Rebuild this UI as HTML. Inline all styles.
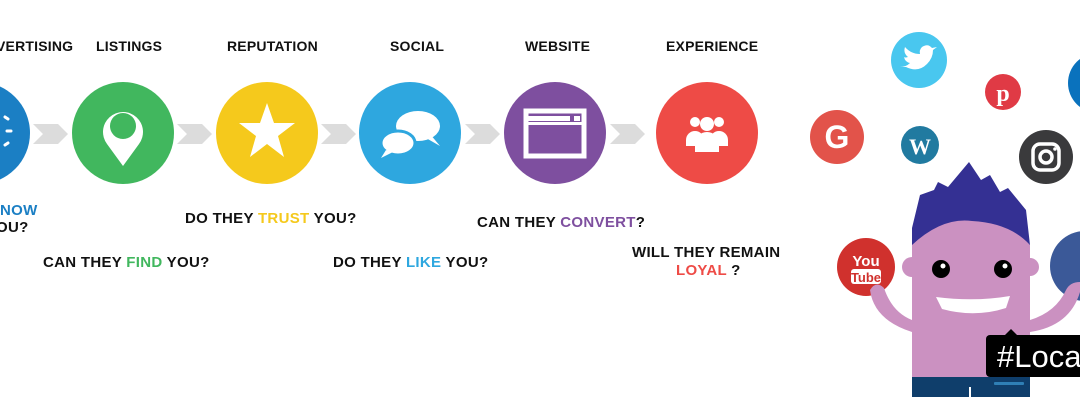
<!DOCTYPE html>
<html><head><style>
body{margin:0;width:1080px;height:417px;overflow:hidden;background:#fff;position:relative;font-family:"Liberation Sans",sans-serif}
.t{position:absolute;font-weight:bold;font-size:14px;color:#111;white-space:nowrap;letter-spacing:0.2px}
.q{font-size:15px;letter-spacing:0.3px}
</style></head><body>
<svg width="1080" height="417" style="position:absolute;left:0;top:0">
<g fill="#dcdcdc">
<polygon points="33,124 58,124 68,134 58,144 33,144 43,134"/>
<polygon points="177,124 202,124 212,134 202,144 177,144 187,134"/>
<polygon points="321,124 346,124 356,134 346,144 321,144 331,134"/>
<polygon points="465,124 490,124 500,134 490,144 465,144 475,134"/>
<polygon points="610,124 635,124 645,134 635,144 610,144 620,134"/>
</g>
<circle cx="-21" cy="133" r="51" fill="#1b7fc4"/>
<g stroke="#fff" stroke-width="3" stroke-linecap="round"><line x1="5" y1="117" x2="8" y2="119"/><line x1="7" y1="131" x2="11" y2="131"/><line x1="5" y1="145" x2="8" y2="143"/></g>
<circle cx="123" cy="133" r="51" fill="#41b75e"/>
<path d="M123,166 L107,144 A20,20 0 1 1 139,144 Z" fill="#fff"/>
<circle cx="123" cy="126" r="13" fill="#41b75e"/>
<circle cx="267" cy="133" r="51" fill="#f5c91c"/>
<polygon points="267,103 274,123 295,123 278,136 284,157 267,144 250,157 256,136 239,123 260,123" fill="#fff"/>
<circle cx="410" cy="133" r="51" fill="#2ea7df"/>
<ellipse cx="418" cy="126" rx="22" ry="15" fill="#fff"/><polygon points="430,134 440,146 426,138" fill="#fff"/>
<ellipse cx="398" cy="143" rx="17" ry="12" fill="#fff" stroke="#2ea7df" stroke-width="3"/><polygon points="386,150 381,158 393,152" fill="#fff"/>
<circle cx="555" cy="133" r="51" fill="#7e4f9f"/>
<rect x="526" y="111" width="58" height="45" fill="none" stroke="#fff" stroke-width="5"/>
<rect x="528" y="116" width="42" height="5" fill="#fff"/><rect x="574" y="116" width="6" height="5" fill="#fff"/>
<rect x="526" y="122" width="58" height="3" fill="#fff"/>
<circle cx="707" cy="133" r="51" fill="#ee4b46"/>
<g fill="#fff"><circle cx="695" cy="122" r="5"/><circle cx="719" cy="122" r="5"/><path d="M686,140 a9,9 0 0 1 18,0 v6 h-18z"/><path d="M710,140 a9,9 0 0 1 18,0 v6 h-18z"/><circle cx="707" cy="124" r="7"/><path d="M695,152 v-8 a12,12 0 0 1 24,0 v8z"/></g>
<circle cx="919" cy="60" r="28" fill="#49c7ef"/>
<path d="M906,67 q12,6 21,-3 q6,-6 6,-14 l4,-3 -5,1 q-4,-5 -10,-1 q-3,3 -2,7 q-9,0 -15,-7 q-2,6 3,10 q-3,1 -4,0 q1,5 6,6 q-4,4 -10,4z" fill="#fff"/>
<circle cx="1003" cy="92" r="18" fill="#e03a45"/>
<text x="1003" y="101" font-size="24" font-weight="bold" fill="#fff" text-anchor="middle" font-family="Liberation Serif">p</text>
<circle cx="1098" cy="83" r="30" fill="#0a72bd"/>
<circle cx="837" cy="137" r="27" fill="#e2534a"/>
<text x="837" y="148" font-size="32" font-weight="bold" fill="#fff" text-anchor="middle">G</text>
<circle cx="920" cy="145" r="19" fill="#217aa0"/>
<text x="920" y="154" font-size="22" font-weight="bold" fill="#fff" text-anchor="middle" font-family="Liberation Serif">W</text>
<circle cx="1046" cy="157" r="27" fill="#3a3a3c"/>
<rect x="1033" y="144" width="26" height="26" rx="7" fill="none" stroke="#fff" stroke-width="3.5"/><circle cx="1046" cy="157" r="6" fill="none" stroke="#fff" stroke-width="3.5"/><circle cx="1055" cy="149" r="1.8" fill="#fff"/>
<circle cx="1085" cy="266" r="35" fill="#3b5998"/>
<path d="M912,228 L920,195 L934,190 L938,182 L948,187 L969,162 L981,180 L990,175 L1000,192 L1008,188 L1026,210 L1030,245 L912,245Z" fill="#343093"/>
<path d="M912,245 q30,-28 60,-24 q38,2 58,24 V377 H912Z" fill="#cb91c1"/>
<circle cx="912" cy="267" r="10" fill="#cb91c1"/><circle cx="1030" cy="267" r="9" fill="#cb91c1"/>
<circle cx="941" cy="269" r="9" fill="#000"/><circle cx="1003" cy="269" r="9" fill="#000"/>
<circle cx="943" cy="266" r="2.5" fill="#fff"/><circle cx="1005" cy="266" r="2.5" fill="#fff"/>
<path d="M936,297 Q975,302 1010,296 L1006,308 Q975,318 942,309Z" fill="#fff"/>
<circle cx="866" cy="267" r="29" fill="#d0312d"/>
<text x="866" y="266" font-size="15" font-weight="bold" fill="#fff" text-anchor="middle">You</text>
<rect x="851" y="269" width="30" height="15" rx="3" fill="#fff"/>
<text x="866" y="282" font-size="13" font-weight="bold" fill="#d0312d" text-anchor="middle">Tube</text>
<path d="M870,290 q4,30 42,42 v-12 q-20,-8 -28,-32 q-8,-8 -14,2z" fill="#cb91c1"/>
<path d="M1030,332 q40,-6 50,-40 v-10 q-10,0 -14,8 q-10,22 -36,30z" fill="#cb91c1"/>
<rect x="912" y="377" width="118" height="20" fill="#0f3e6b"/>
<rect x="994" y="382" width="30" height="3" rx="1" fill="#2f7fb5"/>
<rect x="969" y="387" width="2" height="10" fill="#fff"/>
<rect x="986" y="335" width="100" height="42" rx="4" fill="#000"/>
<polygon points="1005,335 1011,329 1017,335" fill="#000"/>
<text x="997" y="367" font-size="31" fill="#fff">#Loca</text>
</svg>
<div class="t" style="left:-4px;top:38px">VERTISING</div>
<div class="t" style="left:96px;top:38px">LISTINGS</div>
<div class="t" style="left:227px;top:38px">REPUTATION</div>
<div class="t" style="left:390px;top:38px">SOCIAL</div>
<div class="t" style="left:525px;top:38px">WEBSITE</div>
<div class="t" style="left:666px;top:38px">EXPERIENCE</div>
<div class="t q" style="left:0px;top:202px;color:#1b7fc4">NOW</div>
<div class="t q" style="left:-4px;top:219px">OU?</div>
<div class="t q" style="left:185px;top:210px">DO THEY <span style="color:#f5c91c">TRUST</span> YOU?</div>
<div class="t q" style="left:43px;top:254px">CAN THEY <span style="color:#41b75e">FIND</span> YOU?</div>
<div class="t q" style="left:333px;top:254px">DO THEY <span style="color:#2ea7df">LIKE</span> YOU?</div>
<div class="t q" style="left:477px;top:214px">CAN THEY <span style="color:#7e4f9f">CONVERT</span>?</div>
<div class="t q" style="left:632px;top:244px">WILL THEY REMAIN</div>
<div class="t q" style="left:676px;top:262px"><span style="color:#ee4b46">LOYAL</span> ?</div>
</body></html>
